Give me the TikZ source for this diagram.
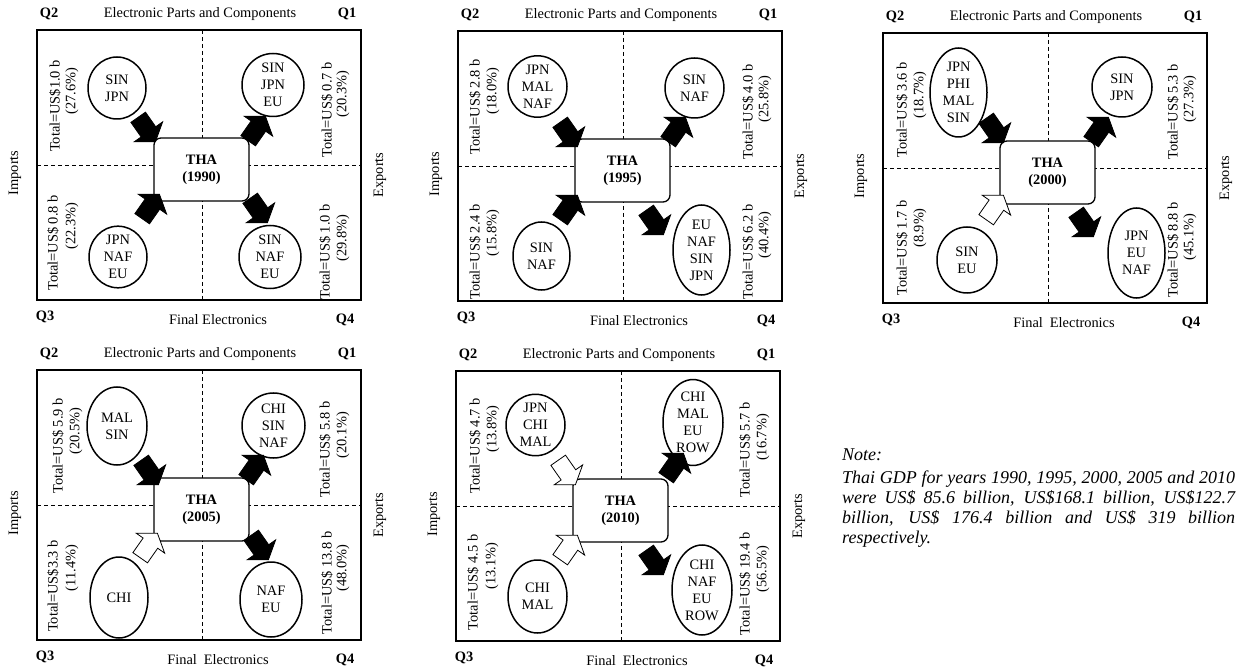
\documentclass[tikz,border=0pt]{standalone}
\usepackage{fontspec}
\setmainfont{Liberation Serif}
\usetikzlibrary{shapes.geometric,shapes.arrows}
\tikzset{
  x=1pt, y=-1pt,
  every node/.style={font=\fontsize{14.4}{17}\selectfont},
  panelframe/.style={line width=1.4pt},
  divider/.style={line width=0.9pt, dash pattern=on 4pt off 3pt},
  thabox/.style={draw, line width=1.3pt, rounded corners=7pt, fill=white,
    minimum width=95pt, minimum height=63pt, align=center,
    font=\fontsize{14.4}{17}\selectfont\bfseries},
  qlab/.style={inner sep=0pt, font=\fontsize{14.4}{17}\selectfont\bfseries},
  axlab/.style={inner sep=0pt},
  cty/.style={ellipse, draw, line width=1.5pt, inner sep=0pt, align=center, fill=white},
  tot/.style={rotate=90, inner sep=0pt},
  flowarrow/.style={single arrow, draw=black, line width=0.8pt, inner sep=8.5pt,
    single arrow head extend=8.5pt, single arrow tip angle=110, minimum height=30pt},
  blk/.style={flowarrow, fill=black},
  wht/.style={flowarrow, fill=white},
  notefont/.style={font=\fontsize{18}{20}\selectfont\itshape},
}
\newcommand\quadframe[3]{%
  \draw[panelframe] (0,0) rectangle (324,270);
  \draw[divider] (165,0) -- (165,270);
  \draw[divider] (0,135) -- (324,135);
  \node[thabox] (#1tha) at (164.5,139.5) {THA\\(#2)};
  \node[qlab] (#1qii) at (12,-16) {Q2};
  \node[qlab] (#1qi) at (310,-16) {Q1};
  \node[qlab] (#1qiii) at (8,287) {Q3};
  \node[qlab] (#1qiv) at (308,290) {Q4};
  \node[axlab] (#1top) at (163,-16) {Electronic Parts and Components};
  \node[axlab] (#1bot) at (181,290) {Final#3Electronics};
  \node[axlab, rotate=90] (#1imp) at (-22,143) {Imports};
  \node[axlab, rotate=90] (#1exp) at (343,145) {Exports};
}
\begin{document}
\begin{tikzpicture}
\fill[white] (0,0) rectangle (1248,668);
\useasboundingbox (0,0) rectangle (1248,668);

% ---------- 1990 ----------
\begin{scope}[shift={(37,30)}]
\quadframe{a}{1990}{~}
\node[cty, minimum width=58pt, minimum height=62pt] (aQ2) at (80,58) {SIN\\JPN};
\node[tot] (aQ2t) at (18,76) {Total=US\$1.0 b};
\node[tot] (aQ2p) at (35,61) {(27.6\%)};
\node[blk, rotate=-55] (aQ2a) at (108,97) {};
\node[cty, minimum width=62pt, minimum height=63pt] (aQ1) at (236,55) {SIN\\JPN\\EU};
\node[tot] (aQ1t) at (290,80) {Total=US\$ 0.7 b};
\node[tot] (aQ1p) at (306,64) {(20.3\%)};
\node[blk, rotate=55] (aQ1a) at (218,101) {};
\node[cty, minimum width=58pt, minimum height=60pt] (aQ3) at (81,227) {JPN\\NAF\\EU};
\node[tot] (aQ3t) at (16,213) {Total=US\$ 0.8 b};
\node[tot] (aQ3p) at (35,196) {(22.3\%)};
\node[blk, rotate=55] (aQ3a) at (112,179) {};
\node[cty, minimum width=62pt, minimum height=63pt] (aQ4) at (233,227) {SIN\\NAF\\EU};
\node[tot] (aQ4t) at (288,222) {Total=US\$ 1.0 b};
\node[tot] (aQ4p) at (306,208) {(29.8\%)};
\node[blk, rotate=-55] (aQ4a) at (220,178) {};
\end{scope}

% ---------- 1995 ----------
\begin{scope}[shift={(458,31)}]
\quadframe{b}{1995}{~}
\node[cty, minimum width=59pt, minimum height=58pt] (bQ2) at (79.5,55.5) {JPN\\MAL\\NAF};
\node[tot] (bQ2t) at (17,76) {Total=US\$ 2.8 b};
\node[tot] (bQ2p) at (35,60) {(18.0\%)};
\node[blk, rotate=-55] (bQ2a) at (109,101) {};
\node[cty, minimum width=59pt, minimum height=60pt] (bQ1) at (236.5,57) {SIN\\NAF};
\node[tot] (bQ1t) at (290,81) {Total=US\$ 4.0 b};
\node[tot] (bQ1p) at (307,68) {(25.8\%)};
\node[blk, rotate=55] (bQ1a) at (217,101) {};
\node[cty, minimum width=57pt, minimum height=68pt] (bQ3) at (83.5,225) {SIN\\NAF};
\node[tot] (bQ3t) at (17,221) {Total=US\$ 2.4 b};
\node[tot] (bQ3p) at (35,202) {(15.8\%)};
\node[blk, rotate=55] (bQ3a) at (109,179) {};
\node[cty, minimum width=57pt, minimum height=90pt] (bQ4) at (243.5,219) {EU\\NAF\\SIN\\JPN};
\node[tot] (bQ4t) at (290,221) {Total=US\$ 6.2 b};
\node[tot] (bQ4p) at (307,204) {(40.4\%)};
\node[blk, rotate=-55] (bQ4a) at (195,189) {};
\end{scope}

% ---------- 2000 ----------
\begin{scope}[shift={(883,33)}]
\quadframe{c}{2000}{\hspace{7pt}}
\node[cty, minimum width=57pt, minimum height=89pt] (cQ2) at (75.5,59.5) {JPN\\PHI\\MAL\\SIN};
\node[tot] (cQ2t) at (19,77) {Total=US\$ 3.6 b};
\node[tot] (cQ2p) at (37,62) {(18.7\%)};
\node[blk, rotate=-55] (cQ2a) at (110,95) {};
\node[cty, minimum width=60pt, minimum height=60pt] (cQ1) at (239,54) {SIN\\JPN};
\node[tot] (cQ1t) at (290,79) {Total=US\$ 5.3 b};
\node[tot] (cQ1p) at (307,66) {(27.3\%)};
\node[blk, rotate=55] (cQ1a) at (215,99) {};
\node[cty, minimum width=60pt, minimum height=66pt] (cQ3) at (84,227) {SIN\\EU};
\node[tot] (cQ3t) at (19,215) {Total=US\$ 1.7 b};
\node[tot] (cQ3p) at (37,195) {(8.9\%)};
\node[wht, rotate=55] (cQ3a) at (110,177) {};
\node[cty, minimum width=57pt, minimum height=90pt] (cQ4) at (253.5,220) {JPN\\EU\\NAF};
\node[tot] (cQ4t) at (290,217) {Total=US\$ 8.8 b};
\node[tot] (cQ4p) at (307,204) {(45.1\%)};
\node[blk, rotate=-55] (cQ4a) at (200,189) {};
\end{scope}

% ---------- 2005 ----------
\begin{scope}[shift={(37,370)}]
\quadframe{d}{2005}{\hspace{7pt}}
\node[cty, minimum width=60pt, minimum height=78pt] (dQ2) at (80,56) {MAL\\SIN};
\node[tot] (dQ2t) at (21,76) {Total=US\$ 5.9 b};
\node[tot] (dQ2p) at (39,61) {(20.5\%)};
\node[blk, rotate=-55] (dQ2a) at (111,100) {};
\node[cty, minimum width=63pt, minimum height=65pt] (dQ1) at (236.5,55.5) {CHI\\SIN\\NAF};
\node[tot] (dQ1t) at (288,79.5) {Total=US\$ 5.8 b};
\node[tot] (dQ1p) at (306,65) {(20.1\%)};
\node[blk, rotate=55] (dQ1a) at (216,100) {};
\node[cty, minimum width=58pt, minimum height=81pt] (dQ3) at (82,227.5) {CHI};
\node[tot] (dQ3t) at (16,216) {Total=US\$3.3 b};
\node[tot] (dQ3p) at (35,198) {(11.4\%)};
\node[wht, rotate=55] (dQ3a) at (110,178) {};
\node[cty, minimum width=62pt, minimum height=75pt] (dQ4) at (234,229.5) {NAF\\EU};
\node[tot] (dQ4t) at (290,213) {Total=US\$ 13.8 b};
\node[tot] (dQ4p) at (306,198) {(48.0\%)};
\node[blk, rotate=-55] (dQ4a) at (221,175) {};
\end{scope}

% ---------- 2010 ----------
\begin{scope}[shift={(456,371)}]
\quadframe{e}{2010}{\hspace{7pt}}
\node[cty, minimum width=59pt, minimum height=60pt] (eQ2) at (79.5,54) {JPN\\CHI\\MAL};
\node[tot] (eQ2t) at (19,75) {Total=US\$ 4.7 b};
\node[tot] (eQ2p) at (37,58) {(13.8\%)};
\node[wht, rotate=-55] (eQ2a) at (109,99) {};
\node[cty, minimum width=60pt, minimum height=79pt] (eQ1) at (237,51.5) {CHI\\MAL\\EU\\ROW};
\node[tot] (eQ1t) at (289,79) {Total=US\$ 5.7 b};
\node[tot] (eQ1p) at (307,66.5) {(16.7\%)};
\node[blk, rotate=55] (eQ1a) at (217,97) {};
\node[cty, minimum width=59pt, minimum height=73pt] (eQ3) at (81.5,225.5) {CHI\\MAL};
\node[tot] (eQ3t) at (17,211.5) {Total=US\$ 4.5 b};
\node[tot] (eQ3p) at (36,195) {(13.1\%)};
\node[wht, rotate=55] (eQ3a) at (111,179) {};
\node[cty, minimum width=60pt, minimum height=90pt] (eQ4) at (246,219) {CHI\\NAF\\EU\\ROW};
\node[tot] (eQ4t) at (289,213) {Total=US\$ 19.4 b};
\node[tot] (eQ4p) at (307,198) {(56.5\%)};
\node[blk, rotate=-55] (eQ4a) at (197,189) {};
\end{scope}

% ---------- note ----------
\node[notefont, anchor=north west, inner sep=0pt] (notehead) at (842,449) {Note:};
\node[notefont, anchor=north west, inner sep=0pt, text width=393pt, align=justify] (notebody) at (842,471)
  {Thai GDP for years 1990, 1995, 2000, 2005 and 2010\linebreak were US\$ 85.6 billion, US\$168.1 billion, US\$122.7\linebreak billion, US\$ 176.4 billion and US\$ 319 billion\linebreak respectively.};
\end{tikzpicture}
\end{document}
